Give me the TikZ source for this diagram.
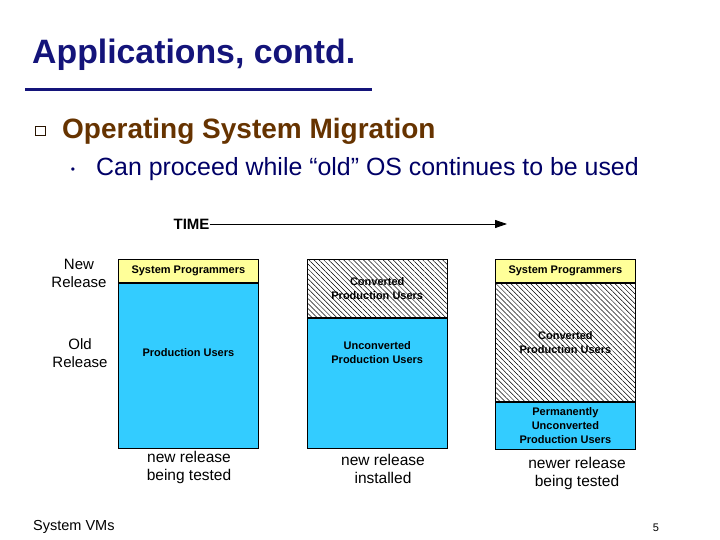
\documentclass[tikz,border=0pt]{standalone}
\usepackage{fontspec}
\setmainfont{Liberation Sans}
\usetikzlibrary{arrows.meta, positioning, patterns.meta}
\definecolor{snavy}{HTML}{14147A}
\definecolor{sdark}{HTML}{000066}
\definecolor{sbrown}{HTML}{663300}
\definecolor{sblue}{HTML}{33CCFF}
\definecolor{syellow}{HTML}{FFFF99}
\tikzset{
  band/.style={draw=black, line width=0.8pt, minimum width=140pt, inner sep=0pt,
               align=center, font=\fontsize{11}{14}\selectfont\bfseries},
  ybox/.style={band, fill=syellow},
  bbox/.style={band, fill=sblue},
  hbox/.style={band, pattern={Lines[angle=-45, distance=3.5pt, line width=0.5pt]}},
  tarr/.style={-{Triangle[length=12pt, width=8pt]}, line width=0.8pt},
}

\begin{document}
\begin{tikzpicture}[x=1pt, y=1pt,
    every node/.style={inner sep=0pt},
    rowlabel/.style={align=center, font=\fontsize{15}{18}\selectfont},
    caption/.style={align=center, font=\fontsize{15.5}{18}\selectfont},
    boxtext/.style={align=center, font=\fontsize{11}{14}\selectfont\bfseries}
  ]
  \useasboundingbox (0,0) rectangle (720,-540);

  % Title
  \node[anchor=base west, text=snavy, font=\fontsize{33.8}{36}\selectfont\bfseries] (title) at (32,-64) {Applications, contd.};
  \draw[snavy, line width=3pt] (25,-90) -- (372,-90);

  % Bullets
  \node[draw=sbrown!40!black, line width=0.8pt, minimum size=9.5pt] (sq) at (40.5,-131) {};
  \node[anchor=base west, text=sbrown, font=\fontsize{28}{32}\selectfont\bfseries] (mig) at (62,-139) {Operating System Migration};
  \node[text=sdark, font=\fontsize{12}{12}\selectfont] (dot) at (73,-171) {\textbullet};
  \node[anchor=base west, text=sdark, font=\fontsize{24.9}{28}\selectfont] (sub) at (96,-176) {Can proceed while “old” OS continues to be used};

  % Time axis
  \node[font=\fontsize{15}{15}\selectfont\bfseries] (time) at (191.5,-224) {TIME};
  \coordinate (tend) at (507,-224);
  \draw[tarr] (time) -- (tend);

  % Row labels
  \node[rowlabel] (newrel) at (79,-273) {New\\Release};
  \node[rowlabel] (oldrel) at (80,-353) {Old\\Release};

  % Column 1
  \node[ybox, minimum height=23pt, anchor=north west] (sp1) at (118,-259) {System Programmers};
  \node[bbox, minimum height=165pt, below=0pt of sp1] (pu1) {};
  \node[boxtext] (pu1t) at (pu1 |- oldrel) {Production Users};

  % Column 2
  \node[hbox, minimum height=58pt, anchor=north west] (cv2) at (307,-259) {Converted\\Production Users};
  \node[bbox, minimum height=130pt, below=0pt of cv2] (uc2) {};
  \node[boxtext] (uc2t) at (uc2 |- oldrel) {Unconverted\\Production Users};

  % Column 3
  \node[ybox, minimum height=23pt, anchor=north west] (sp3) at (495,-259) {System Programmers};
  \node[hbox, minimum height=118pt, below=0pt of sp3] (cv3) {Converted\\Production Users};
  \node[bbox, minimum height=47pt, below=0pt of cv3] (pu3) {Permanently\\Unconverted\\Production Users};

  % Captions
  \node[caption] (cap1) at (189,-467) {new release\\being tested};
  \node[caption] (cap2) at (383,-469) {new release\\installed};
  \node[caption] (cap3) at (577,-473) {newer release\\being tested};

  % Footer
  \node[anchor=west, font=\fontsize{14.5}{14.5}\selectfont] (foot) at (33,-527) {System VMs};
  \node[font=\fontsize{11}{11}\selectfont] (pnum) at (656,-528) {5};
\end{tikzpicture}
\end{document}
